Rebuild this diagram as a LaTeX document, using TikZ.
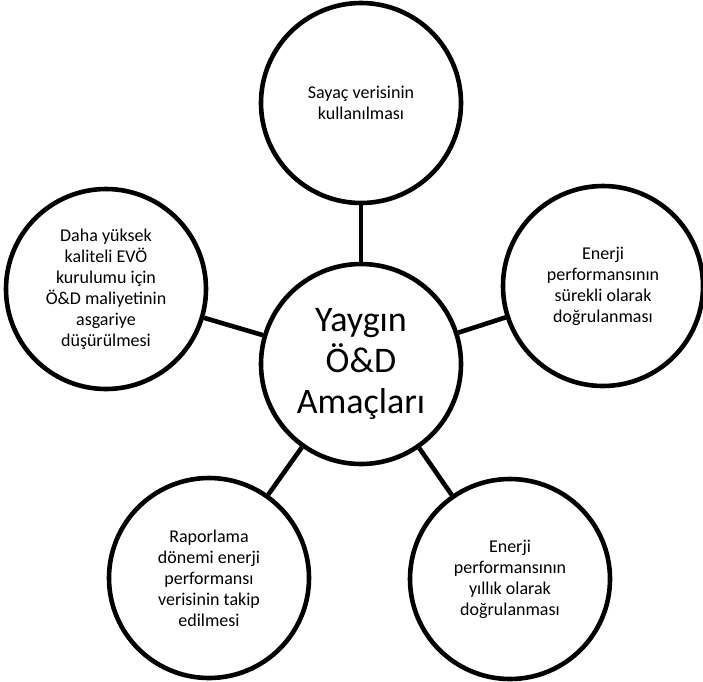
\documentclass[tikz,border=0pt]{standalone}
\usepackage{fontspec}
\setmainfont{Carlito}
\begin{document}
\begin{tikzpicture}[x=1pt,y=-1pt,
  goal/.style={circle, draw, line width=4.6pt, fill=white, minimum size=200pt,
    inner sep=0pt, align=center, font=\fontsize{18}{21}\selectfont},
  hub/.style={goal, font=\fontsize{36}{41}\selectfont},
  link/.style={line width=4.6pt}]
\useasboundingbox (0,0) rectangle (703,681);

% central circle
\node[hub] (hub) at (361,364) {Yaygın\\Ö\&D\\Amaçları};

% surrounding goals
\node[goal] (top) at (361,103) {Sayaç verisinin\\kullanılması};
\node[goal] (right) at (603,286) {Enerji\\performansının\\sürekli olarak\\doğrulanması};
\node[goal] (bright) at (510,579) {Enerji\\performansının\\yıllık olarak\\doğrulanması};
\node[goal] (bleft) at (209,578) {Raporlama\\dönemi enerji\\performansı\\verisinin takip\\edilmesi};
\node[goal] (left) at (106,289) {Daha yüksek\\kaliteli EVÖ\\kurulumu için\\Ö\&D maliyetinin\\asgariye\\düşürülmesi};

% spokes
\draw[link] (hub) -- (top);
\draw[link] (hub) -- (right);
\draw[link] (hub) -- (bright);
\draw[link] (hub) -- (bleft);
\draw[link] (hub) -- (left);
\end{tikzpicture}
\end{document}
